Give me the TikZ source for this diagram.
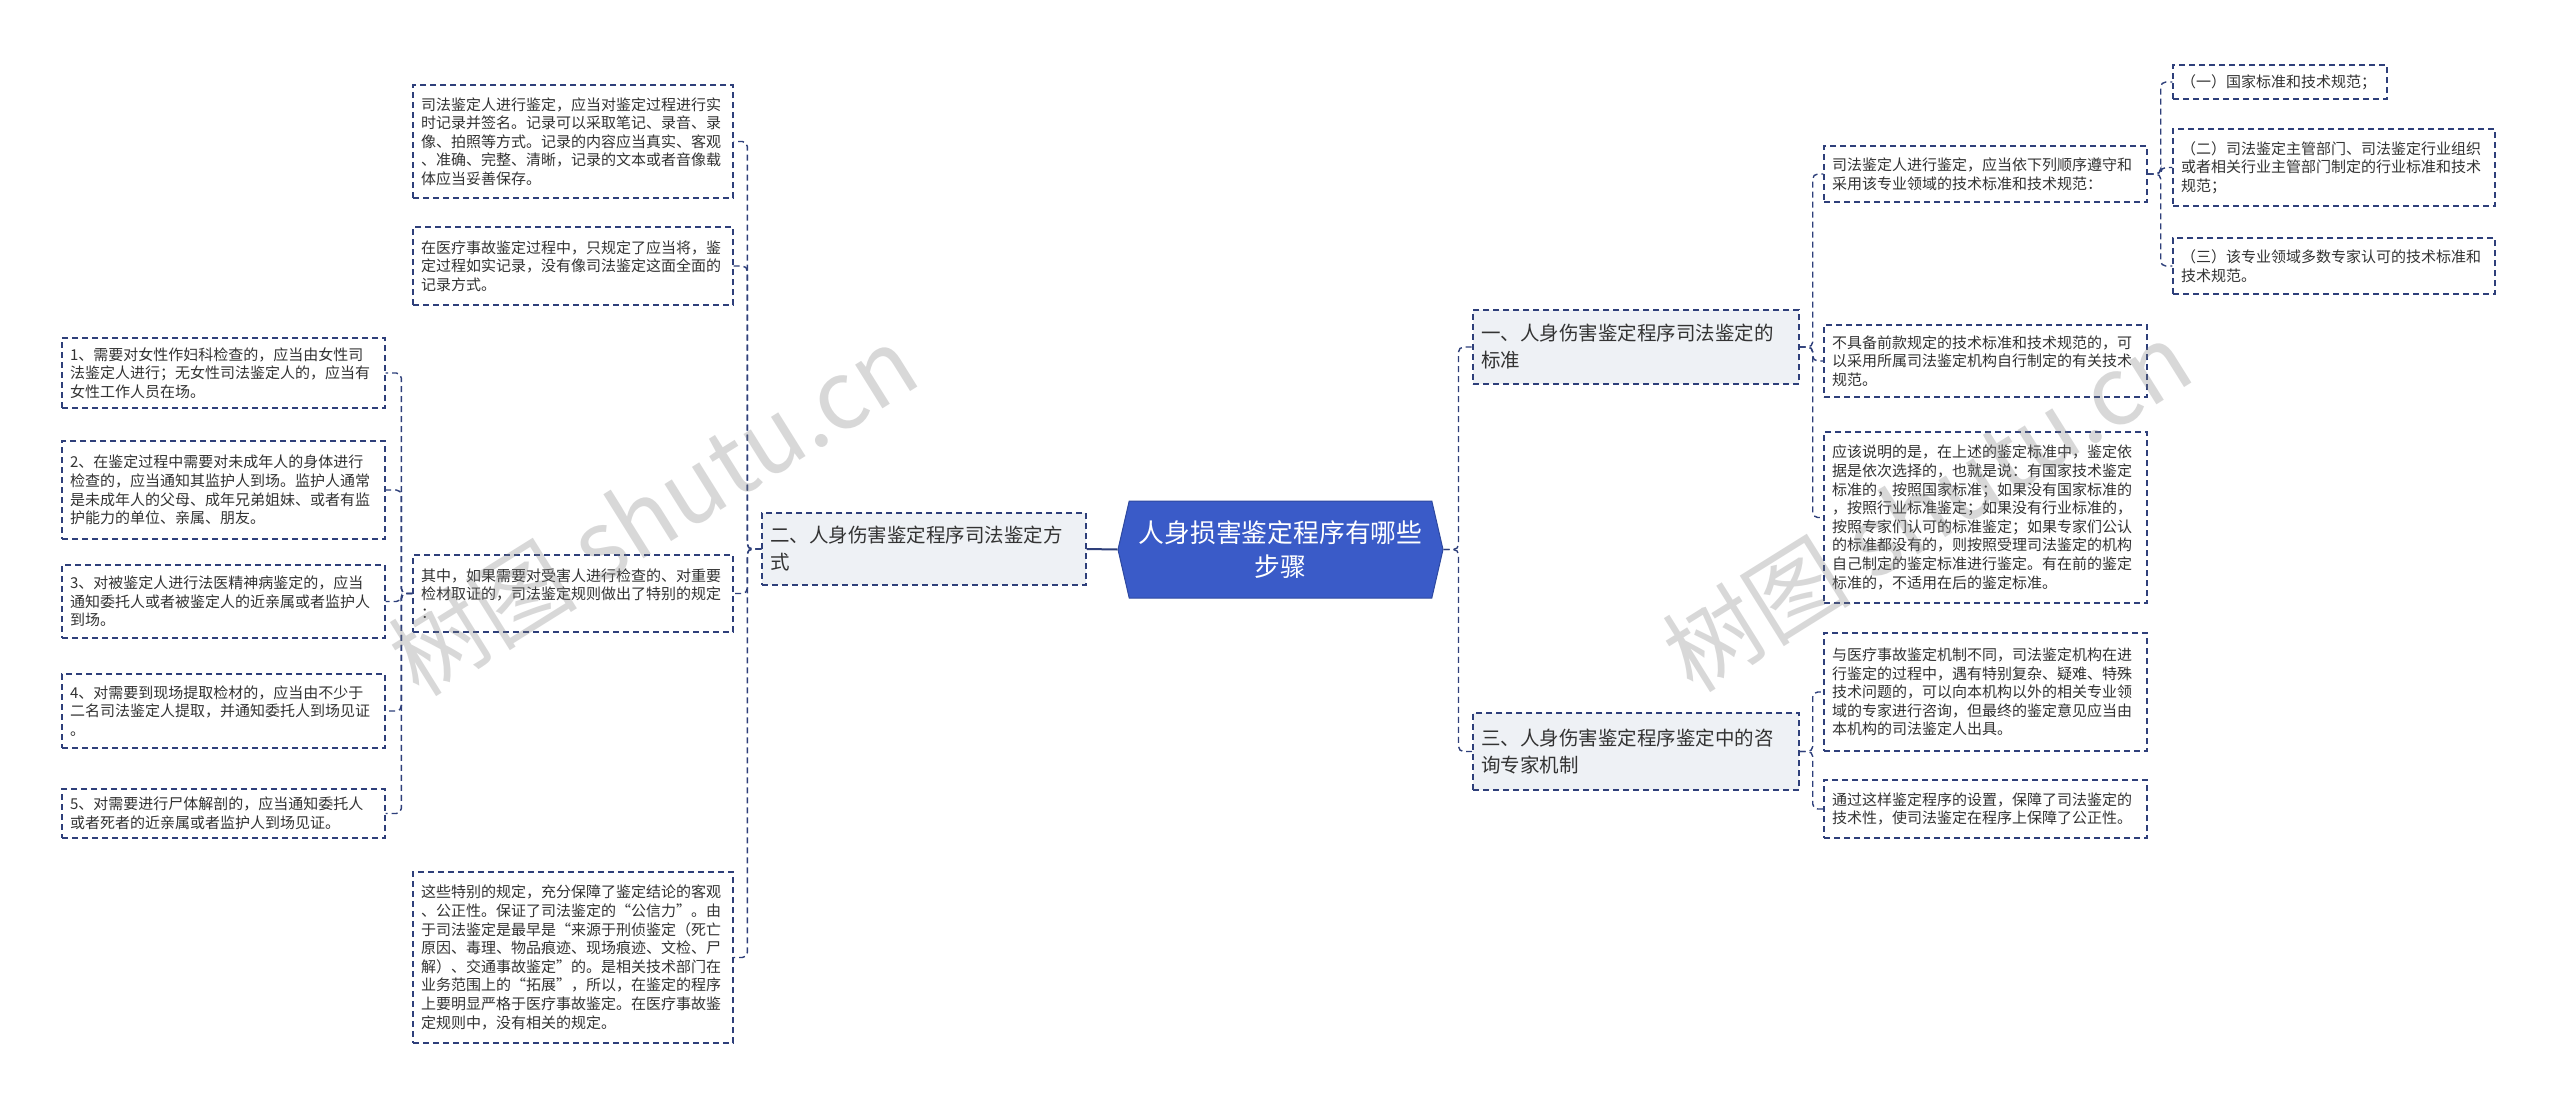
\documentclass[tikz,border=0pt]{standalone}
\usepackage{fontspec}
\setmainfont{Noto Sans CJK SC}
\usetikzlibrary{shapes.symbols}
\definecolor{navy}{HTML}{2E3F7A}
\definecolor{rootblue}{HTML}{3A5BC8}
\definecolor{branchfill}{HTML}{EEF1F5}
\definecolor{txt}{HTML}{333333}
\tikzset{
  box/.style={draw=navy, line width=1.4pt, dash pattern=on 6pt off 4pt, fill=white,
    align=left, inner xsep=8pt, inner ysep=3pt, text=txt,
    font=\fontsize{15}{18.6}\selectfont},
  branchbox/.style={box, fill=branchfill, font=\fontsize{19.5}{27}\selectfont},
  conn/.style={draw=navy, line width=1.4pt, dash pattern=on 6pt off 4pt, rounded corners=5pt},
  rootline/.style={draw=navy, line width=2pt},
  wm/.style={font=\fontsize{95}{95}\selectfont, text=gray, opacity=0.3},
}
\begin{document}
\begin{tikzpicture}[x=1pt,y=-1pt]
\fill[white] (0,0) rectangle (2560,1109);
\useasboundingbox (0,0) rectangle (2560,1109);

% root
\node[signal, signal to=west and east, signal pointer angle=154,
  minimum width=325pt, minimum height=97pt, inner sep=0pt,
  fill=rootblue, draw=rootblue!80!black, line width=1pt, text=white, align=center,
  font=\fontsize{25.8}{34}\selectfont] (root) at (1280.5,549.5) {人身损害鉴定程序有哪些\\步骤};

% branches
\node[branchbox, minimum width=324pt, minimum height=72pt, text width=308pt] (b2) at (924,549) {二、人身伤害鉴定程序司法鉴定方\\式};
\node[branchbox, minimum width=326pt, minimum height=74pt, text width=310pt] (b1) at (1636,347) {一、人身伤害鉴定程序司法鉴定的\\标准};
\node[branchbox, minimum width=326pt, minimum height=77pt, text width=310pt] (b3) at (1636,751.5) {三、人身伤害鉴定程序鉴定中的咨\\询专家机制};

% left leaves
\node[box, minimum width=320pt, minimum height=113pt, text width=304pt] (L1) at (573,141.5) {司法鉴定人进行鉴定，应当对鉴定过程进行实\\时记录并签名。记录可以采取笔记、录音、录\\像、拍照等方式。记录的内容应当真实、客观\\、准确、完整、清晰，记录的文本或者音像载\\体应当妥善保存。};
\node[box, minimum width=320pt, minimum height=78pt, text width=304pt] (L2) at (573,266) {在医疗事故鉴定过程中，只规定了应当将，鉴\\定过程如实记录，没有像司法鉴定这面全面的\\记录方式。};
\node[box, minimum width=320pt, minimum height=77pt, text width=304pt] (L3) at (573,593.5) {其中，如果需要对受害人进行检查的、对重要\\检材取证的，司法鉴定规则做出了特别的规定\\：};
\node[box, minimum width=320pt, minimum height=171pt, text width=304pt] (L4) at (573,957.5) {这些特别的规定，充分保障了鉴定结论的客观\\、公正性。保证了司法鉴定的“公信力”。由\\于司法鉴定是最早是“来源于刑侦鉴定（死亡\\原因、毒理、物品痕迹、现场痕迹、文检、尸\\解）、交通事故鉴定”的。是相关技术部门在\\业务范围上的“拓展”，所以，在鉴定的程序\\上要明显严格于医疗事故鉴定。在医疗事故鉴\\定规则中，没有相关的规定。};

% far-left leaves
\node[box, minimum width=323pt, minimum height=70pt, text width=307pt] (C1) at (223.5,373) {1、需要对女性作妇科检查的，应当由女性司\\法鉴定人进行；无女性司法鉴定人的，应当有\\女性工作人员在场。};
\node[box, minimum width=323pt, minimum height=98pt, text width=307pt] (C2) at (223.5,490) {2、在鉴定过程中需要对未成年人的身体进行\\检查的，应当通知其监护人到场。监护人通常\\是未成年人的父母、成年兄弟姐妹、或者有监\\护能力的单位、亲属、朋友。};
\node[box, minimum width=323pt, minimum height=73pt, text width=307pt] (C3) at (223.5,601.5) {3、对被鉴定人进行法医精神病鉴定的，应当\\通知委托人或者被鉴定人的近亲属或者监护人\\到场。};
\node[box, minimum width=323pt, minimum height=74pt, text width=307pt] (C4) at (223.5,711) {4、对需要到现场提取检材的，应当由不少于\\二名司法鉴定人提取，并通知委托人到场见证\\。};
\node[box, minimum width=323pt, minimum height=49pt, text width=307pt] (C5) at (223.5,813.5) {5、对需要进行尸体解剖的，应当通知委托人\\或者死者的近亲属或者监护人到场见证。};

% right leaves
\node[box, minimum width=323pt, minimum height=56pt, text width=307pt] (R1) at (1985.5,174) {司法鉴定人进行鉴定，应当依下列顺序遵守和\\采用该专业领域的技术标准和技术规范：};
\node[box, minimum width=323pt, minimum height=72pt, text width=307pt] (R2) at (1985.5,361) {不具备前款规定的技术标准和技术规范的，可\\以采用所属司法鉴定机构自行制定的有关技术\\规范。};
\node[box, minimum width=323pt, minimum height=171pt, text width=307pt] (R3) at (1985.5,517.5) {应该说明的是，在上述的鉴定标准中，鉴定依\\据是依次选择的，也就是说：有国家技术鉴定\\标准的，按照国家标准；如果没有国家标准的\\，按照行业标准鉴定；如果没有行业标准的，\\按照专家们认可的标准鉴定；如果专家们公认\\的标准都没有的，则按照受理司法鉴定的机构\\自己制定的鉴定标准进行鉴定。有在前的鉴定\\标准的，不适用在后的鉴定标准。};
\node[box, minimum width=323pt, minimum height=118pt, text width=307pt] (T1) at (1985.5,692) {与医疗事故鉴定机制不同，司法鉴定机构在进\\行鉴定的过程中，遇有特别复杂、疑难、特殊\\技术问题的，可以向本机构以外的相关专业领\\域的专家进行咨询，但最终的鉴定意见应当由\\本机构的司法鉴定人出具。};
\node[box, minimum width=323pt, minimum height=58pt, text width=307pt] (T2) at (1985.5,809) {通过这样鉴定程序的设置，保障了司法鉴定的\\技术性，使司法鉴定在程序上保障了公正性。};

% far-right leaves
\node[box, minimum width=214pt, minimum height=34pt, text width=198pt] (S1) at (2280,82) {（一）国家标准和技术规范；};
\node[box, minimum width=322pt, minimum height=77pt, text width=306pt] (S2) at (2334,167.5) {（二）司法鉴定主管部门、司法鉴定行业组织\\或者相关行业主管部门制定的行业标准和技术\\规范；};
\node[box, minimum width=322pt, minimum height=56pt, text width=306pt] (S3) at (2334,266) {（三）该专业领域多数专家认可的技术标准和\\技术规范。};

% connectors
\draw[rootline] (root.west) -- (b2.east);
\draw[conn] (root.east) -- ++(15,0) |- (b1.west);
\draw[conn] (root.east) -- ++(15,0) |- (b3.west);

\foreach \n in {L1,L2,L3,L4} \draw[conn] (b2.west) -- ++(-14,0) |- (\n.east);
\foreach \n in {C1,C2,C3,C4,C5} \draw[conn] (L3.west) -- ++(-11,0) |- (\n.east);
\foreach \n in {R1,R2,R3} \draw[conn] (b1.east) -- ++(13,0) |- (\n.west);
\foreach \n in {T1,T2} \draw[conn] (b3.east) -- ++(13,0) |- (\n.west);
\foreach \n in {S1,S2,S3} \draw[conn] (R1.east) -- ++(13,0) |- (\n.west);

% watermarks
\node[wm, rotate=32] (wm1) at (653,510) {树图 shutu.cn};
\node[wm, rotate=32] (wm2) at (1927,506) {树图 shutu.cn};
\end{tikzpicture}
\end{document}
